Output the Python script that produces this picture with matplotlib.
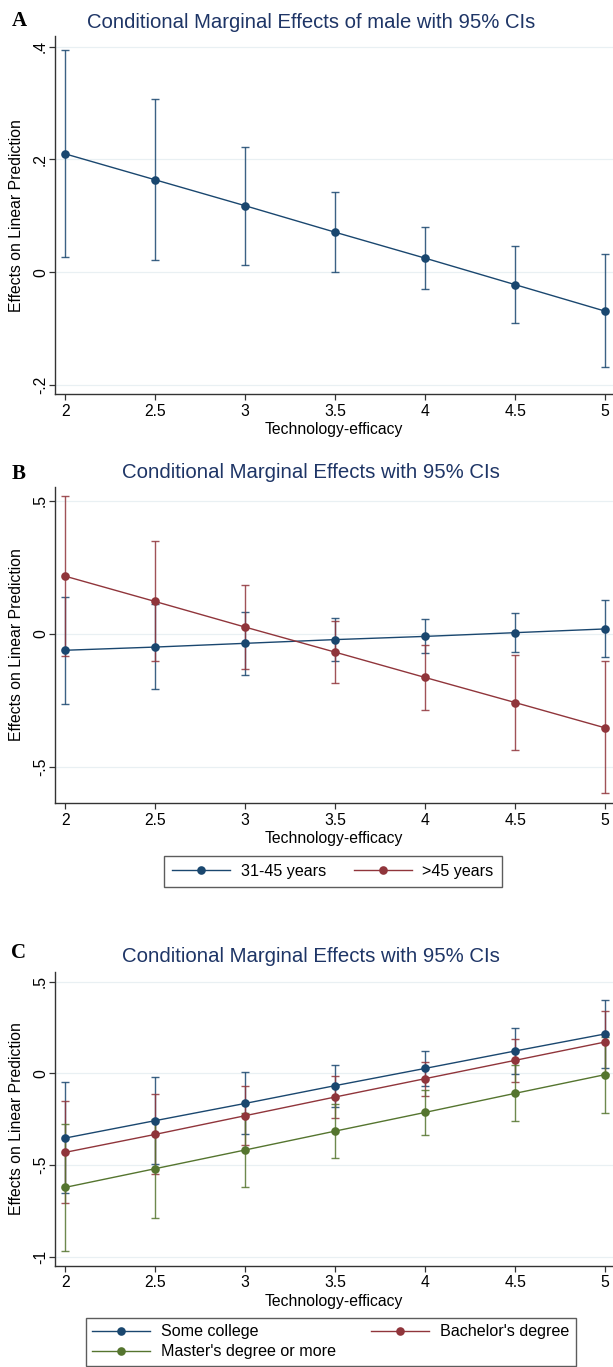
import matplotlib
matplotlib.use("Agg")
import matplotlib.pyplot as plt
from matplotlib.ticker import FixedLocator, FixedFormatter

# ---------------- data ----------------
x_vals = [2, 2.5, 3, 3.5, 4, 4.5, 5]
x_ticklabels = ["2", "2.5", "3", "3.5", "4", "4.5", "5"]

A_est = [0.210, 0.164, 0.118, 0.071, 0.025, -0.022, -0.069]
A_lo = [0.027, 0.021, 0.013, 0.000, -0.030, -0.090, -0.168]
A_hi = [0.394, 0.307, 0.223, 0.143, 0.080, 0.047, 0.033]

B_young_est = [-0.061, -0.049, -0.035, -0.021, -0.009, 0.005, 0.019]
B_young_lo = [-0.263, -0.206, -0.152, -0.103, -0.071, -0.069, -0.088]
B_young_hi = [0.139, 0.114, 0.081, 0.060, 0.055, 0.080, 0.127]
B_old_est = [0.217, 0.122, 0.026, -0.068, -0.163, -0.257, -0.352]
B_old_lo = [-0.084, -0.103, -0.132, -0.182, -0.284, -0.434, -0.598]
B_old_hi = [0.518, 0.348, 0.185, 0.048, -0.040, -0.080, -0.103]

C_some_est = [-0.353, -0.258, -0.164, -0.067, 0.027, 0.122, 0.215]
C_some_lo = [-0.655, -0.495, -0.331, -0.182, -0.069, -0.005, 0.029]
C_some_hi = [-0.049, -0.022, 0.005, 0.047, 0.124, 0.249, 0.400]
C_bach_est = [-0.431, -0.333, -0.231, -0.129, -0.029, 0.071, 0.171]
C_bach_lo = [-0.709, -0.549, -0.389, -0.242, -0.122, -0.047, -0.002]
C_bach_hi = [-0.153, -0.111, -0.069, -0.016, 0.062, 0.189, 0.342]
C_mast_est = [-0.622, -0.520, -0.418, -0.315, -0.213, -0.109, -0.007]
C_mast_lo = [-0.967, -0.791, -0.618, -0.462, -0.336, -0.262, -0.216]
C_mast_hi = [-0.275, -0.249, -0.218, -0.167, -0.089, 0.044, 0.200]

A_yticks = [-0.2, 0, 0.2, 0.4]
A_ylabels = ["-.2", "0", ".2", ".4"]
B_yticks = [-0.5, 0, 0.5]
B_ylabels = ["-.5", "0", ".5"]
C_yticks = [-1, -0.5, 0, 0.5]
C_ylabels = ["-1", "-.5", "0", ".5"]

title_A = "Conditional Marginal Effects of male with 95% CIs"
title_BC = "Conditional Marginal Effects with 95% CIs"
xlabel = "Technology-efficacy"
ylabel = "Effects on Linear Prediction"
B_labels = ["31-45 years", ">45 years"]
C_labels = ["Some college", "Bachelor's degree", "Master's degree or more"]

# ---------------- style ----------------
NAVY = "#1a476f"
MAROON = "#90353b"
GREEN = "#55752f"
TITLE_C = "#1e3566"
SPINE_C = "#333333"
GRID_C = "#e9f0f3"
SANS = "Liberation Sans"
FS = 11.3
LFS = 11.6

plt.rcParams["font.family"] = SANS

W, H = 613, 1367
fig = plt.figure(figsize=(W / 100, H / 100), dpi=100)
fig.patch.set_facecolor("white")


def px_axes(left, right, top, bottom):
    return fig.add_axes([left / W, 1 - bottom / H, (right - left) / W, (bottom - top) / H])


def style_axes(ax, ylim, yticks, ylabels, top, bottom):
    ax.set_xlim(1.944, 5.044)
    ax.set_ylim(*ylim)
    for s in ["top", "right"]:
        ax.spines[s].set_visible(False)
    for s in ["left", "bottom"]:
        ax.spines[s].set_color(SPINE_C)
        ax.spines[s].set_linewidth(1.0)
    ax.xaxis.set_major_locator(FixedLocator(x_vals))
    ax.xaxis.set_major_formatter(FixedFormatter(x_ticklabels))
    ax.yaxis.set_major_locator(FixedLocator(yticks))
    ax.yaxis.set_major_formatter(FixedFormatter(ylabels))
    ax.tick_params(axis="x", length=4, width=0.9, color=SPINE_C, pad=3, labelsize=FS)
    ax.tick_params(axis="y", length=4, width=0.9, color=SPINE_C, pad=6.5, labelsize=FS,
                   labelrotation=90)
    for lab in ax.get_yticklabels():
        lab.set_va("center")
        lab.set_ha("center")
    ax.grid(axis="y", color=GRID_C, lw=0.9, zorder=0)
    ax.set_axisbelow(True)
    hpx = bottom - top
    ax.set_xlabel(xlabel, fontsize=FS)
    ax.xaxis.set_label_coords(0.5, -35.5 / hpx)
    ax.xaxis.label.set_va("center")
    ax.set_ylabel(ylabel, fontsize=FS)
    ax.yaxis.set_label_coords((17 - 55) / (W - 55), 0.5)
    ax.yaxis.label.set_va("center")


def draw_series(ax, est, lo, hi, color):
    ax.errorbar(x_vals, est, yerr=[[e - l for e, l in zip(est, lo)], [h - e for e, h in zip(est, hi)]],
                fmt="none", ecolor=color, elinewidth=1.0, capsize=3.2, capthick=1.0,
                alpha=0.85, zorder=2)
    line, = ax.plot(x_vals, est, color=color, lw=1.0, marker="o", ms=6.2,
                    markeredgewidth=0, zorder=3)
    return line


def fit_title(text, cx, cy, width_px):
    t = fig.text(cx / W, 1 - cy / H, text, ha="center", va="center", fontsize=13,
                 color=TITLE_C, family=SANS)
    r = fig.canvas.get_renderer()
    w = t.get_window_extent(renderer=r).width
    t.set_fontsize(13 * width_px / w)
    return t


def letter(ch, cx, cy):
    fig.text(cx / W, 1 - cy / H, ch, ha="center", va="center", fontsize=15,
             family="Liberation Serif", weight="bold", color="black")


# ---------------- panel A ----------------
axA = px_axes(55, 613, 36, 394.3)
style_axes(axA, (-0.2165, 0.419), A_yticks, A_ylabels, 36, 394.3)
draw_series(axA, A_est, A_lo, A_hi, NAVY)
fit_title(title_A, 311, 22, 448)
letter("A", 19, 21)

# ---------------- panel B ----------------
axB = px_axes(55, 613, 486.7, 803.3)
style_axes(axB, (-0.635, 0.5525), B_yticks, B_ylabels, 486.7, 803.3)
lb1 = draw_series(axB, B_young_est, B_young_lo, B_young_hi, NAVY)
lb2 = draw_series(axB, B_old_est, B_old_lo, B_old_hi, MAROON)
fit_title(title_BC, 311, 472.3, 377)
letter("B", 19, 474)

legB = fig.legend([lb1, lb2], B_labels, loc="upper left",
                  bbox_to_anchor=(164 / W, 1 - 856 / H), borderaxespad=0,
                  ncol=2, frameon=True, fancybox=False, fontsize=LFS,
                  handlelength=3.6, handletextpad=0.65, columnspacing=1.75,
                  borderpad=0.5)
legB.get_frame().set_edgecolor(SPINE_C)
legB.get_frame().set_linewidth(1.0)

# ---------------- panel C ----------------
axC = px_axes(55, 613, 971.7, 1265.7)
style_axes(axC, (-1.049, 0.5545), C_yticks, C_ylabels, 971.7, 1265.7)
lc1 = draw_series(axC, C_some_est, C_some_lo, C_some_hi, NAVY)
lc2 = draw_series(axC, C_bach_est, C_bach_lo, C_bach_hi, MAROON)
lc3 = draw_series(axC, C_mast_est, C_mast_lo, C_mast_hi, GREEN)
fit_title(title_BC, 311, 956.7, 377)
letter("C", 18, 953)

legC = fig.legend([lc1, lc3, lc2], [C_labels[0], C_labels[2], C_labels[1]], loc="upper left",
                  bbox_to_anchor=(86 / W, 1 - 1318 / H), borderaxespad=0,
                  ncol=2, frameon=True, fancybox=False, fontsize=LFS,
                  handlelength=3.6, handletextpad=0.65, columnspacing=2.2,
                  borderpad=0.4, labelspacing=0.3)
legC.get_frame().set_edgecolor(SPINE_C)
legC.get_frame().set_linewidth(1.0)

fig.savefig("out.png", dpi=100, facecolor="white")
